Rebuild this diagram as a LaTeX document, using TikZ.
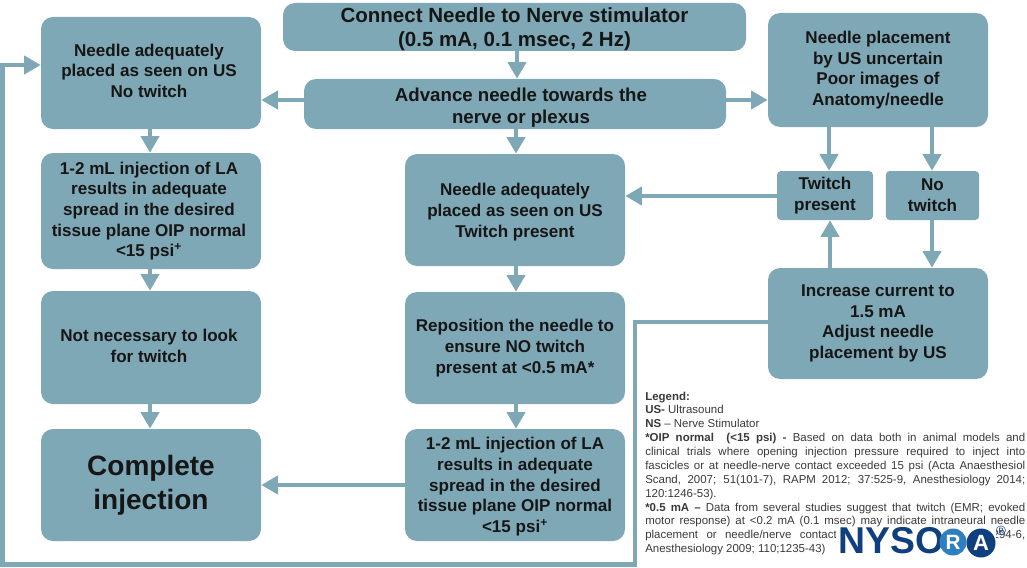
\documentclass[tikz,border=0pt]{standalone}
\usepackage{fontspec}
\setmainfont{Liberation Sans}
\usetikzlibrary{arrows.meta}
\definecolor{flowblue}{HTML}{7FA8B6}
\definecolor{inkdark}{HTML}{161616}
\definecolor{legendink}{HTML}{3A3A3A}
\definecolor{logonavy}{HTML}{0F3F7E}
\definecolor{logolight}{HTML}{2E7FC0}
\newcommand{\leg}[1]{\hbox to 285pt{#1}}
\newcommand{\pushdown}[1]{\rule{0pt}{#1}}
\newcommand{\pushup}[1]{\rule[-#1]{0pt}{#1}}
\tikzset{
  flowbox/.style={fill=flowblue,rounded corners=9pt,inner sep=0pt,align=center,text=inkdark,
    font=\fontsize{12.8}{15.5}\selectfont\bfseries,minimum width=165pt},
  smallbox/.style={fill=flowblue,rounded corners=3pt,inner sep=0pt,align=center,text=inkdark,
    font=\fontsize{12.8}{15.5}\selectfont\bfseries,minimum height=36.75pt},
  link/.style={draw=flowblue,line width=3.4pt,-{Triangle[length=12.5pt,width=13.5pt]}},
  logoletters/.style={text=logonavy,inner sep=0pt,font=\fontsize{28}{28}\selectfont\bfseries},
}
\begin{document}
\begin{tikzpicture}[x=0.75pt,y=-0.75pt]
\useasboundingbox (0,0) rectangle (1027,567);
% boxes
\node[flowbox,minimum width=347.25pt,minimum height=36pt,font=\fontsize{15.4}{18}\selectfont\bfseries] (top) at (514.5,27) {\raisebox{0pt}[14pt][2pt]{Connect Needle to Nerve stimulator}\\[0pt](0.5 mA, 0.1 msec, 2 Hz)};
\node[flowbox,minimum width=316.5pt,minimum height=37.5pt,font=\fontsize{14}{16.5}\selectfont\bfseries] (adv) at (515,104) {\pushdown{15.6pt}\hspace*{9pt}Advance needle towards the\\\hspace*{9pt}nerve or plexus};
\node[flowbox,minimum height=84pt] (nt) at (151,73) {\hspace*{-3pt}Needle adequately\\\hspace*{-3pt}placed as seen on US\\\hspace*{-3pt}No twitch\pushup{3.3pt}};
\node[flowbox,minimum height=87pt] (inj1) at (151,211) {\hspace*{-3pt}1-2 mL injection of LA\\\hspace*{-3pt}results in adequate\\\hspace*{-3pt}spread in the desired\\\hspace*{-3pt}tissue plane OIP normal\\\hspace*{-3pt}<15 psi\textsuperscript{+}};
\node[flowbox,minimum height=84.75pt] (notn) at (151,347.5) {\hspace*{-3pt}Not necessary to look\\\hspace*{-3pt}for twitch\pushup{3pt}};
\node[flowbox,minimum height=84pt,font=\fontsize{21}{25.5}\selectfont\bfseries] (comp) at (151,485) {Complete\\injection};
\node[flowbox,minimum height=84pt] (tw) at (515,210) {\pushdown{12.5pt}Needle adequately\\placed as seen on US\\Twitch present};
\node[flowbox,minimum height=84pt] (repo) at (515,348) {Reposition the needle to\\ensure NO twitch\\present at <0.5 mA*};
\node[flowbox,minimum height=84pt] (inj2) at (515,485) {\pushdown{11.7pt}1-2 mL injection of LA\\results in adequate\\spread in the desired\\tissue plane OIP normal\\<15 psi\textsuperscript{+}};
\node[flowbox,minimum height=85.5pt] (unc) at (878,70) {Needle placement\\by US uncertain\\Poor images of\\Anatomy/needle};
\node[smallbox,minimum width=72pt] (tp) at (825,195.5) {Twitch\\present};
\node[smallbox,minimum width=70pt] (ntw) at (932.5,195.5) {No\\twitch};
\node[flowbox,minimum height=83.25pt] (inc) at (878,323.5) {Increase current to\\1.5 mA\\Adjust needle\\placement by US};
% helper coordinates
\coordinate (xtop) at (517,0);
\coordinate (xmid) at (516,0);
\coordinate (xleft) at (150,0);
\coordinate (xtp) at (829,0);
\coordinate (xntw) at (932,0);
\coordinate (xup) at (830,0);
\coordinate (yadv) at (0,100);
\coordinate (ycomp) at (0,485);
\coordinate (ytw) at (0,196);
\coordinate (yback) at (0,322);
\coordinate (yin) at (0,65);
\coordinate (corner1) at (635,322);
\coordinate (corner2) at (635,564.5);
\coordinate (corner3) at (2.5,564.5);
\coordinate (corner4) at (2.5,65);
% connectors
\draw[link] (top.south -| xtop) -- (adv.north -| xtop);
\draw[link] (adv.west |- yadv) -- (nt.east |- yadv);
\draw[link] (adv.east |- yadv) -- (unc.west |- yadv);
\draw[link] (adv.south -| xmid) -- (tw.north -| xmid);
\draw[link] (nt.south -| xleft) -- (inj1.north -| xleft);
\draw[link] (inj1.south -| xleft) -- (notn.north -| xleft);
\draw[link] (notn.south -| xleft) -- (comp.north -| xleft);
\draw[link] (tw.south -| xmid) -- (repo.north -| xmid);
\draw[link] (repo.south -| xmid) -- (inj2.north -| xmid);
\draw[link] (inj2.west |- ycomp) -- (comp.east |- ycomp);
\draw[link] (unc.south -| xtp) -- (tp.north -| xtp);
\draw[link] (unc.south -| xntw) -- (ntw.north -| xntw);
\draw[link] (ntw.south -| xntw) -- (inc.north -| xntw);
\draw[link] (inc.north -| xup) -- (tp.south -| xup);
\draw[link] (tp.west |- ytw) -- (tw.east |- ytw);
\draw[link] (inc.west |- yback) -- (corner1) -- (corner2) -- (corner3) -- (corner4) -- (nt.west |- yin);
% legend
\node[anchor=north west,inner sep=0pt,align=left,text=legendink,font=\fontsize{8.6}{10.4}\selectfont] (legend) at (645,391.5)
{\textbf{Legend:}\\
\textbf{US-} Ultrasound\\
\textbf{NS} -- Nerve Stimulator\\
\leg{\textbf{*OIP normal\ \ (<15 psi) -} Based on data both in animal models and}\\
\leg{clinical trials where opening injection pressure required to inject into}\\
\leg{fascicles or at needle-nerve contact exceeded 15 psi (Acta Anaesthesiol}\\
\leg{Scand, 2007; 51(101-7), RAPM 2012; 37:525-9, Anesthesiology 2014;}\\
120:1246-53).\\
\leg{\textbf{*0.5 mA --} Data from several studies suggest that twitch (EMR; evoked}\\
\leg{motor response) at <0.2 mA (0.1 msec) may indicate intraneural needle}\\
\leg{placement or needle/nerve contact (Anesth Analg 2006; 102:294-6,}\\
Anesthesiology 2009; 110;1235-43)};
% logo
\fill[white] (836,527) rectangle (996,556);
\node[logoletters,anchor=west] (nyso) at (838,541) {NYSO};
\fill[logolight] (953,542) circle (13.5);
\fill[logonavy] (981,543) circle (14.5);
\node[text=white,inner sep=0pt,font=\fontsize{15.5}{15.5}\selectfont\bfseries] (logor) at (953,542) {R};
\node[text=white,inner sep=0pt,font=\fontsize{16.5}{16.5}\selectfont\bfseries] (logoa) at (981,543) {A};
\node[text=logonavy,inner sep=0pt,font=\fontsize{10}{10}\selectfont] (logoreg) at (1001,531) {®};
\end{tikzpicture}
\end{document}
